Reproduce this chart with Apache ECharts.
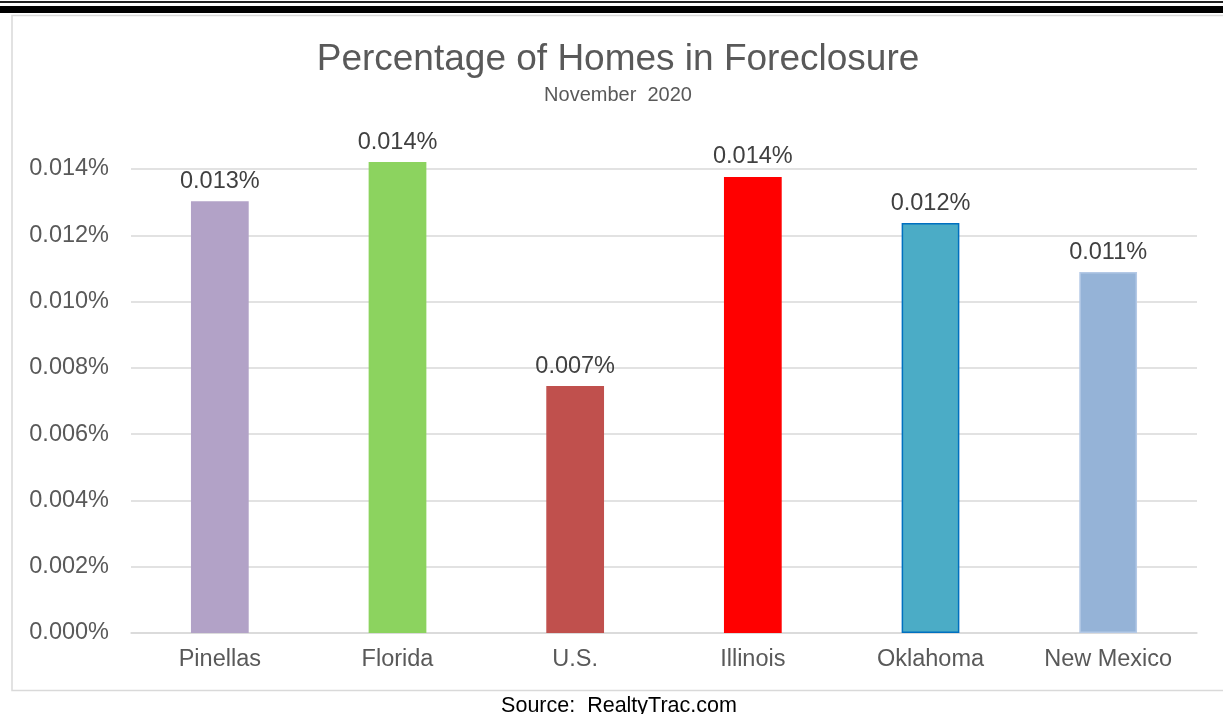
<!DOCTYPE html>
<html>
<head>
<meta charset="utf-8">
<script src="https://cdn.jsdelivr.net/npm/echarts@6/dist/echarts.min.js"></script>
<style>
  html, body { margin: 0; padding: 0; background: #fff; }
  #chart { width: 1223px; height: 714px; }
</style>
</head>
<body>
<div id="chart"></div>
<script>
const categories = ['Pinellas', 'Florida', 'U.S.', 'Illinois', 'Oklahoma', 'New Mexico'];
const values = [0.01303, 0.01421, 0.00745, 0.01376, 0.01237, 0.01089];
const barColors = ['#B2A2C7', '#8CD35F', '#C0504D', '#FF0000', '#4BACC6', '#95B3D7'];
const barBorders = ['#B2A2C7', '#8CD35F', '#C0504D', '#FF0000', '#0070C0', '#B4C9E6'];

const font = '"Liberation Sans", Arial, sans-serif';
const chart = echarts.init(document.getElementById('chart'));

chart.setOption({
    backgroundColor: '#fff',
    animation: false,
    title: [
        { text: 'Percentage of Homes in Foreclosure', left: 613, textAlign: 'center', top: 36,
          textStyle: { fontFamily: font, fontSize: 37, fontWeight: 'normal', color: '#595959' } },
        { text: 'November  2020', left: 613, textAlign: 'center', top: 80,
          textStyle: { fontFamily: font, fontSize: 20, fontWeight: 'normal', color: '#595959' } },
        { text: 'Source:  RealtyTrac.com', left: 614, textAlign: 'center', top: 690,
          textStyle: { fontFamily: font, fontSize: 21.5, fontWeight: 'normal', color: '#000' } }
    ],
    graphic: [
        { type: 'rect', shape: { x: 0, y: 1, width: 1223, height: 2 }, style: { fill: '#222' } },
        { type: 'rect', shape: { x: 0, y: 6, width: 1223, height: 7 }, style: { fill: '#000' } },
        { type: 'rect', shape: { x: 12, y: 15.5, width: 1215, height: 675 },
          style: { fill: 'none', stroke: '#D9D9D9', lineWidth: 1.5 } }
    ],
    grid: { left: 131, right: 26, top: 169, bottom: 81 },
    xAxis: {
        type: 'category',
        data: categories,
        axisLine: { lineStyle: { color: '#D9D9D9', width: 1.5 } },
        axisTick: { show: false },
        axisLabel: { fontFamily: font, fontSize: 23.5, color: '#595959', margin: 15 }
    },
    yAxis: {
        type: 'value',
        min: 0,
        max: 0.014,
        interval: 0.002,
        axisLine: { show: false },
        axisTick: { show: false },
        splitLine: { lineStyle: { color: '#D9D9D9', width: 1.5 } },
        axisLabel: { fontFamily: font, fontSize: 23.5, color: '#595959', margin: 22,
            formatter: v => v.toFixed(3) + '%' }
    },
    series: [{
        type: 'bar',
        clip: false,
        barWidth: '32.5%',
        data: values.map((v, i) => ({
            value: v,
            itemStyle: { color: barColors[i], borderColor: barBorders[i], borderWidth: 1.5 }
        })),
        label: {
            show: true,
            position: 'top',
            distance: 8,
            fontFamily: font,
            fontSize: 23.5,
            color: '#404040',
            formatter: p => p.value.toFixed(3) + '%'
        }
    }]
});
</script>
</body>
</html>
